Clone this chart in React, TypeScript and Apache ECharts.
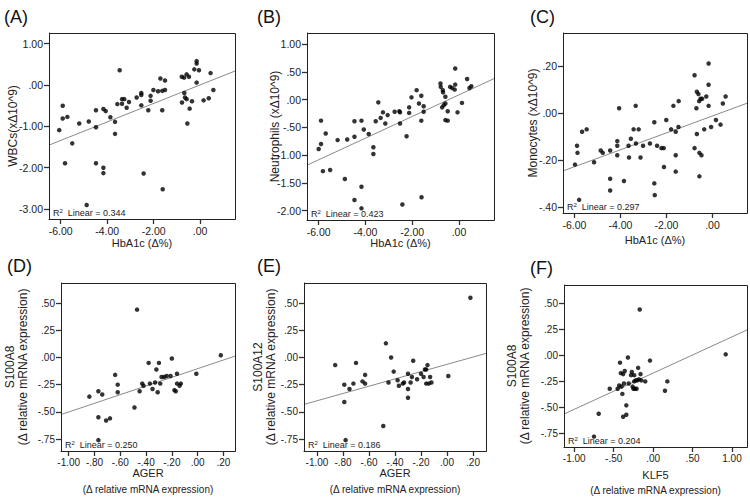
import React, { useEffect, useRef } from "react";
import * as echarts from "echarts";

// ---- Data ----
const aHbA1c = [-6.06,-5.91,-5.91,-5.81,-5.71,-5.50,-5.20,-4.79,-4.48,-4.48,-4.48,-4.16,-4.16,-4.16,-4.06,-3.86,-3.66,-3.66,-3.56,-3.46,-3.36,-3.36,-3.26,-3.16,-3.06,-2.73,-2.53,-2.53,-2.53,-2.43,-2.23,-2.13,-2.13,-2.01,-1.81,-1.71,-1.63,-1.63,-1.61,-1.51,-1.51,-0.79,-0.78,-0.69,-0.68,-0.65,-0.58,-0.58,-0.55,-0.48,-0.45,-0.35,-0.25,-0.15,-0.15,-0.15,-0.05,0.15,0.37,0.45,0.57,-4.88];
const aWBC = [-1.09,-0.81,-0.50,-1.89,-0.77,-1.41,-0.93,-0.88,-0.61,-1.02,-1.89,-0.58,-2.00,-2.13,-0.63,-0.78,-0.89,-1.18,-0.46,0.36,-0.45,-0.34,-0.34,-0.55,-0.41,-0.30,-0.19,-0.24,-0.49,-2.14,-0.61,-0.38,-0.26,-0.12,-0.15,0.16,-0.61,-0.14,-2.52,0.11,-0.12,0.20,-0.42,0.18,-0.19,-0.30,0.26,-0.34,-0.93,0.20,-0.57,-0.39,0.38,0.52,0.58,0.06,0.36,-0.37,-0.32,0.29,-0.12,-2.90];

const bHbA1c = [-6.00,-5.90,-5.90,-5.82,-5.70,-5.51,-5.19,-4.88,-4.78,-4.47,-4.47,-4.47,-4.17,-4.17,-4.17,-4.07,-3.86,-3.66,-3.66,-3.56,-3.45,-3.35,-3.25,-3.15,-3.05,-2.75,-2.55,-2.52,-2.52,-2.42,-2.24,-2.13,-2.13,-2.03,-1.81,-1.71,-1.61,-1.61,-1.60,-1.51,-1.51,-0.79,-0.78,-0.72,-0.69,-0.68,-0.65,-0.58,-0.58,-0.58,-0.48,-0.48,-0.38,-0.29,-0.18,-0.16,-0.16,-0.06,0.13,0.35,0.45,0.53];
const bNeut = [-0.89,-0.80,-0.38,-1.29,-0.61,-1.27,-0.73,-1.43,-0.72,-0.67,-0.39,-1.81,-1.96,-1.57,-0.38,-0.54,-0.62,-0.86,-0.98,-0.39,-0.05,-0.33,-0.23,-0.43,-0.28,-0.22,-0.21,-0.23,-0.43,-1.89,-0.66,-0.14,-0.24,0.04,0.17,-0.07,0.07,-0.38,-1.76,-0.12,-0.22,0.29,0.23,-0.14,0.17,0.13,-0.10,0.05,-0.07,-0.37,-0.21,-0.38,0.23,0.21,0.18,0.56,0.27,-0.23,-0.06,0.37,0.21,0.24];

const cHbA1c = [-5.98,-5.89,-5.87,-5.80,-5.67,-5.47,-5.15,-4.86,-4.77,-4.45,-4.45,-4.45,-4.14,-4.14,-4.14,-4.06,-3.85,-3.65,-3.63,-3.55,-3.43,-3.34,-3.33,-3.21,-3.13,-3.02,-2.72,-2.53,-2.53,-2.51,-2.41,-2.22,-2.12,-2.11,-2.01,-1.80,-1.70,-1.60,-1.60,-1.60,-1.48,-1.47,-0.78,-0.78,-0.70,-0.68,-0.68,-0.61,-0.58,-0.57,-0.57,-0.52,-0.48,-0.45,-0.36,-0.27,-0.17,-0.17,-0.17,-0.06,0.15,0.35,0.45,0.57];
const cMono = [-0.22,-0.14,-0.17,-0.37,-0.08,-0.07,-0.21,-0.16,-0.17,-0.28,-0.33,-0.16,-0.12,-0.14,-0.18,0.02,-0.29,-0.14,-0.19,-0.11,-0.07,0.03,-0.13,-0.07,-0.19,-0.14,-0.13,-0.04,-0.30,-0.35,-0.14,-0.15,-0.15,-0.23,-0.03,-0.07,0.03,-0.08,-0.18,-0.25,-0.06,0.05,0.16,-0.15,0.02,0.09,-0.09,0.08,0.05,-0.17,-0.27,0.06,-0.18,0.06,-0.07,0.07,0.21,0.12,0.03,-0.06,-0.03,-0.05,0.04,0.07];

const dAGER = [-0.84,-0.77,-0.77,-0.77,-0.74,-0.71,-0.68,-0.64,-0.62,-0.62,-0.49,-0.47,-0.45,-0.43,-0.42,-0.38,-0.37,-0.35,-0.33,-0.32,-0.31,-0.30,-0.29,-0.28,-0.26,-0.24,-0.21,-0.20,-0.18,-0.17,-0.16,-0.16,-0.14,-0.13,-0.01,0.18];
const dS100A8 = [-0.36,-0.31,-0.55,-0.76,-0.34,-0.58,-0.56,-0.16,-0.25,-0.32,-0.46,0.44,-0.31,-0.24,-0.26,-0.05,-0.24,-0.29,-0.23,-0.11,-0.32,-0.05,-0.24,-0.18,-0.18,-0.17,-0.17,-0.01,-0.30,-0.31,-0.15,-0.24,-0.26,-0.24,-0.15,0.02];

const eAGER = [-0.86,-0.79,-0.79,-0.78,-0.75,-0.72,-0.70,-0.65,-0.63,-0.63,-0.49,-0.47,-0.45,-0.43,-0.41,-0.38,-0.37,-0.34,-0.33,-0.30,-0.30,-0.30,-0.28,-0.27,-0.26,-0.23,-0.20,-0.18,-0.17,-0.16,-0.16,-0.15,-0.14,-0.13,-0.12,0.01,0.18];
const eS100A12 = [-0.07,-0.25,-0.41,-0.76,-0.29,-0.24,-0.05,-0.22,-0.24,-0.16,-0.63,0.13,-0.23,0.00,-0.13,-0.21,-0.26,-0.24,-0.23,-0.15,-0.29,-0.37,-0.23,-0.18,-0.03,-0.20,-0.15,-0.18,-0.11,-0.11,-0.24,-0.07,-0.24,-0.18,-0.23,-0.17,0.55];

const fKLF5 = [-0.75,-0.69,-0.45,-0.55,-0.43,-0.42,-0.41,-0.40,-0.39,-0.38,-0.38,-0.37,-0.36,-0.34,-0.34,-0.32,-0.31,-0.28,-0.27,-0.26,-0.25,-0.24,-0.24,-0.23,-0.22,-0.21,-0.20,-0.19,-0.18,-0.17,-0.16,-0.15,-0.10,-0.04,0.15,0.18,0.92];
const fS100A8 = [-0.78,-0.56,-0.32,-0.32,-0.29,-0.07,-0.17,-0.30,-0.37,-0.18,-0.59,-0.27,-0.15,-0.48,-0.57,-0.02,-0.27,-0.19,-0.16,-0.30,-0.32,-0.25,-0.19,-0.32,-0.24,-0.32,-0.24,-0.12,-0.23,0.44,-0.18,-0.24,-0.25,-0.05,-0.34,-0.25,0.01];

// Tick labels
const hbTicks = [-6, -4, -2, 0];
const wbcTicks = [1, 0, -1, -2, -3];
const neutTicks = [1, 0.5, 0, -0.5, -1, -1.5, -2];
const monoTicks = [0.2, 0, -0.2, -0.4];
const agerTicks = [-1, -0.8, -0.6, -0.4, -0.2, 0, 0.2];
const s100Ticks = [0.5, 0.25, 0, -0.25, -0.5, -0.75];
const klfTicks = [-1, -0.5, 0, 0.5, 1];

// Fit lines (intercept, slope) and R²
const fitIntercepts = [0.004, 0.085, -0.013, -0.103, -0.063, -0.17];
const fitSlopes = [0.224, 0.195, 0.036, 0.398, 0.335, 0.348];
const r2Values = ["0.344", "0.423", "0.297", "0.250", "0.186", "0.204"];
const panelLetters = ["(A)", "(B)", "(C)", "(D)", "(E)", "(F)"];

const FONT = "'Liberation Sans', Arial, sans-serif";

const fmt = (v: number) => {
  const a = Math.abs(v).toFixed(2);
  const s = a.startsWith("0") ? a.slice(1) : a;
  return (v < -1e-9 ? "-" : "") + s;
};

const panels = [
  { box: [49, 33, 186, 186], xr: [-6.5, 1.5], yr: [-3.24, 1.26], xs: aHbA1c, ys: aWBC, xt: hbTicks, yt: wbcTicks,
    letter: [4, 8], ytitle: ["WBCs(xΔ10^9)"], ytx: [13], xtitle: ["HbA1c (Δ%)"], xty: [243] },
  { box: [307, 33, 187, 187], xr: [-6.5, 1.5], yr: [-2.17, 1.2], xs: bHbA1c, ys: bNeut, xt: hbTicks, yt: neutTicks,
    letter: [257, 8], ytitle: ["Neutrophils (xΔ10^9)"], ytx: [275], xtitle: ["HbA1c (Δ%)"], xty: [243] },
  { box: [563, 33, 184, 180], xr: [-6.5, 1.5], yr: [-0.426, 0.34], xs: cHbA1c, ys: cMono, xt: hbTicks, yt: monoTicks,
    letter: [530, 8], ytitle: ["Monocytes (xΔ10^9)"], ytx: [533], xtitle: ["HbA1c (Δ%)"], xty: [240] },
  { box: [61, 283, 174, 168], xr: [-1.06, 0.29], yr: [-0.86, 0.685], xs: dAGER, ys: dS100A8, xt: agerTicks, yt: s100Ticks,
    letter: [7, 257], ytitle: ["S100A8", "(Δ relative mRNA expression)"], ytx: [10, 23], xtitle: ["AGER", "(Δ relative mRNA expression)"], xty: [473, 489] },
  { box: [304, 283, 182, 168], xr: [-1.1, 0.3], yr: [-0.86, 0.685], xs: eAGER, ys: eS100A12, xt: agerTicks, yt: s100Ticks,
    letter: [257, 257], ytitle: ["S100A12", "(Δ relative mRNA expression)"], ytx: [258, 271], xtitle: ["AGER", "(Δ relative mRNA expression)"], xty: [473, 489] },
  { box: [564, 285, 183, 162], xr: [-1.13, 1.19], yr: [-0.88, 0.676], xs: fKLF5, ys: fS100A8, xt: klfTicks, yt: s100Ticks,
    letter: [530, 259], ytitle: ["S100A8", "(Δ relative mRNA expression)"], ytx: [512, 525], xtitle: ["KLF5", "(Δ relative mRNA expression)"], xty: [475, 490] },
];

export default function App() {
  const ref = useRef<HTMLDivElement>(null);
  useEffect(() => {
    if (!ref.current) return;
    const chart = echarts.init(ref.current, null, { renderer: "svg" });
    const grid: any[] = [];
    const xAxis: any[] = [];
    const yAxis: any[] = [];
    const series: any[] = [];
    const graphic: any[] = [];

    panels.forEach((p, i) => {
      const [l, t, w, h] = p.box;
      const tickFont = i < 3 ? 10.5 : 10;
      grid.push({ left: l, top: t, width: w, height: h, show: false });
      xAxis.push({
        type: "value", gridIndex: i, min: p.xr[0], max: p.xr[1],
        axisLine: { show: true, onZero: false, lineStyle: { color: "#222", width: 1 } },
        axisTick: { show: true, length: 5, lineStyle: { color: "#333", width: 1.3 }, customValues: p.xt },
        axisLabel: { customValues: p.xt, formatter: fmt, fontSize: tickFont, color: "#222", fontFamily: FONT, margin: 6 },
        splitLine: { show: false },
      });
      yAxis.push({
        type: "value", gridIndex: i, min: p.yr[0], max: p.yr[1],
        axisLine: { show: true, onZero: false, lineStyle: { color: "#222", width: 1 } },
        axisTick: { show: true, length: 5, lineStyle: { color: "#333", width: 1.3 }, customValues: p.yt },
        axisLabel: { customValues: p.yt, formatter: fmt, fontSize: tickFont, color: "#222", fontFamily: FONT, margin: 6 },
        splitLine: { show: false },
      });
      series.push({
        type: "scatter", xAxisIndex: i, yAxisIndex: i, symbolSize: 4.5,
        itemStyle: { color: "#000" },
        data: p.xs.map((x, k) => [x, p.ys[k]]),
        z: 3,
      });
      const b = fitIntercepts[i], m = fitSlopes[i];
      series.push({
        type: "line", xAxisIndex: i, yAxisIndex: i, showSymbol: false, silent: true,
        lineStyle: { color: "#8a8a8a", width: 1 },
        data: [[p.xr[0], b + m * p.xr[0]], [p.xr[1], b + m * p.xr[1]]],
        z: 2,
      });
      // frame
      graphic.push({
        type: "rect", shape: { x: l + 0.5, y: t + 0.5, width: w, height: h },
        style: { fill: "none", stroke: "#222", lineWidth: 1 }, z: 10, silent: true,
      });
      // panel letter
      graphic.push({ type: "text", x: p.letter[0], y: p.letter[1], style: { text: panelLetters[i], fontSize: 18, fontFamily: FONT, fill: "#111" } });
      // R² label
      graphic.push({
        type: "text", x: l + 4, y: t + h - 1,
        style: {
          text: "{r|R}{s|2}{n|  Linear = " + r2Values[i] + "}",
          verticalAlign: "bottom",
          rich: {
            r: { fontSize: 9, fontFamily: FONT, fill: "#222" },
            s: { fontSize: 6, fontFamily: FONT, fill: "#222", verticalAlign: "top", padding: [0, 0, 4, 0] },
            n: { fontSize: 9, fontFamily: FONT, fill: "#222" },
          },
        },
      });
      // y titles
      p.ytitle.forEach((txt, k) => {
        graphic.push({
          type: "text", x: p.ytx[k], y: t + h / 2, rotation: Math.PI / 2,
          style: { text: txt, fontSize: 12, fontFamily: FONT, fill: "#222", align: "center", verticalAlign: "middle" },
        });
      });
      // x titles
      p.xtitle.forEach((txt, k) => {
        graphic.push({
          type: "text", x: l + w / 2, y: p.xty[k],
          style: { text: txt, fontSize: i < 3 ? 11 : (k === 0 ? 11 : 10), fontFamily: FONT, fill: "#222", align: "center", verticalAlign: "middle" },
        });
      });
    });

    chart.setOption({
      animation: false,
      backgroundColor: "#fff",
      grid, xAxis, yAxis, series, graphic,
    });
    return () => chart.dispose();
  }, []);
  return <div ref={ref} style={{ position: "fixed", left: 0, top: 0, width: 750, height: 500 }} />;
}
